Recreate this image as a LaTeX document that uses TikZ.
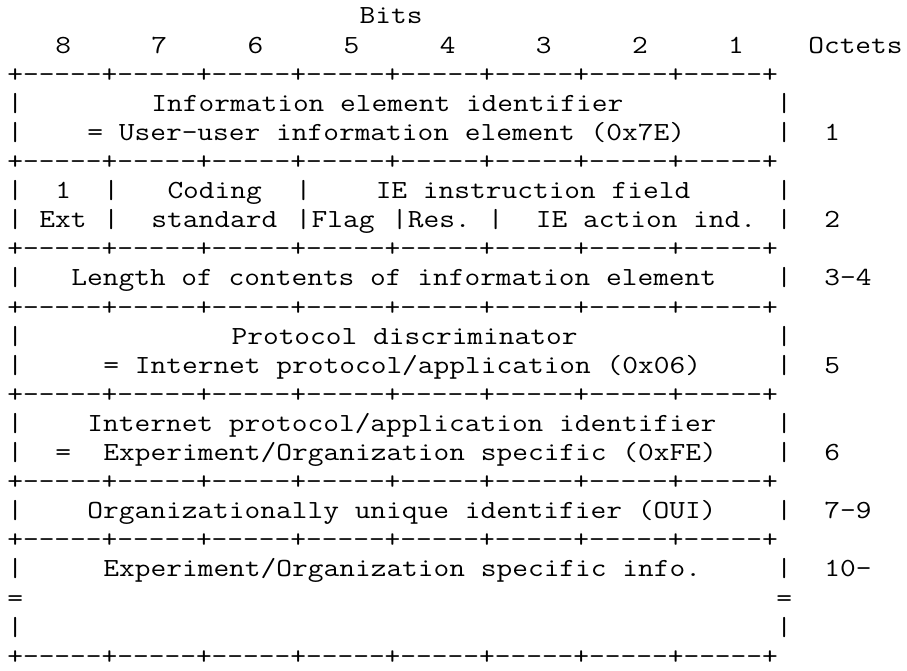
\documentclass[tikz,border=0pt]{standalone}
\usepackage{fontspec}
\setmonofont{Latin Modern Mono}[FakeStretch=1.17]
\newcommand\ascfont{\ttfamily\fontsize{26.1}{29.1}\selectfont\frenchspacing}
\tikzset{
  txt/.style={anchor=base west, inner sep=0pt, outer sep=0pt, font=\ascfont, text=black},
}
\newcommand\cell[3]{\node[txt] (c#1x#2) at ({7.3+#2*16.02},{24+#1*29.1}) {#3};}
\newcommand\border[1]{\cell{#1}{0}{+-----+-----+-----+-----+-----+-----+-----+-----+}}
\newcommand\bars[1]{\cell{#1}{0}{|}\cell{#1}{48}{|}}
\begin{document}
\begin{tikzpicture}[x=1pt,y=-1pt]
\fill[white] (0,0) rectangle (907,671);
\useasboundingbox (0,0) rectangle (907,671);
% header
\cell{0}{22}{Bits}
\cell{1}{3}{8}\cell{1}{9}{7}\cell{1}{15}{6}\cell{1}{21}{5}
\cell{1}{27}{4}\cell{1}{33}{3}\cell{1}{39}{2}\cell{1}{45}{1}
\cell{1}{50}{Octets}
% octet 1
\border{2}
\bars{3}\cell{3}{9}{Information element identifier}
\bars{4}\cell{4}{5}{= User-user information element (0x7E)}\cell{4}{51}{1}
% octet 2
\border{5}
\bars{6}\cell{6}{3}{1}\cell{6}{6}{|}\cell{6}{10}{Coding}\cell{6}{18}{|}
\cell{6}{23}{IE instruction field}
\bars{7}\cell{7}{2}{Ext}\cell{7}{6}{|}\cell{7}{9}{standard}\cell{7}{18}{|}
\cell{7}{19}{Flag}\cell{7}{24}{|}\cell{7}{25}{Res.}\cell{7}{30}{|}
\cell{7}{33}{IE action ind.}\cell{7}{51}{2}
% octets 3-4
\border{8}
\bars{9}\cell{9}{4}{Length of contents of information element}\cell{9}{51}{3-4}
% octet 5
\border{10}
\bars{11}\cell{11}{14}{Protocol discriminator}
\bars{12}\cell{12}{6}{= Internet protocol/application (0x06)}\cell{12}{51}{5}
% octet 6
\border{13}
\bars{14}\cell{14}{5}{Internet protocol/application identifier}
\bars{15}\cell{15}{3}{=}\cell{15}{6}{Experiment/Organization specific (0xFE)}\cell{15}{51}{6}
% octets 7-9
\border{16}
\bars{17}\cell{17}{5}{Organizationally unique identifier (OUI)}\cell{17}{51}{7-9}
% octets 10-
\border{18}
\bars{19}\cell{19}{6}{Experiment/Organization specific info.}\cell{19}{51}{10-}
\cell{20}{0}{=}\cell{20}{48}{=}
\bars{21}
\border{22}
\end{tikzpicture}
\end{document}
